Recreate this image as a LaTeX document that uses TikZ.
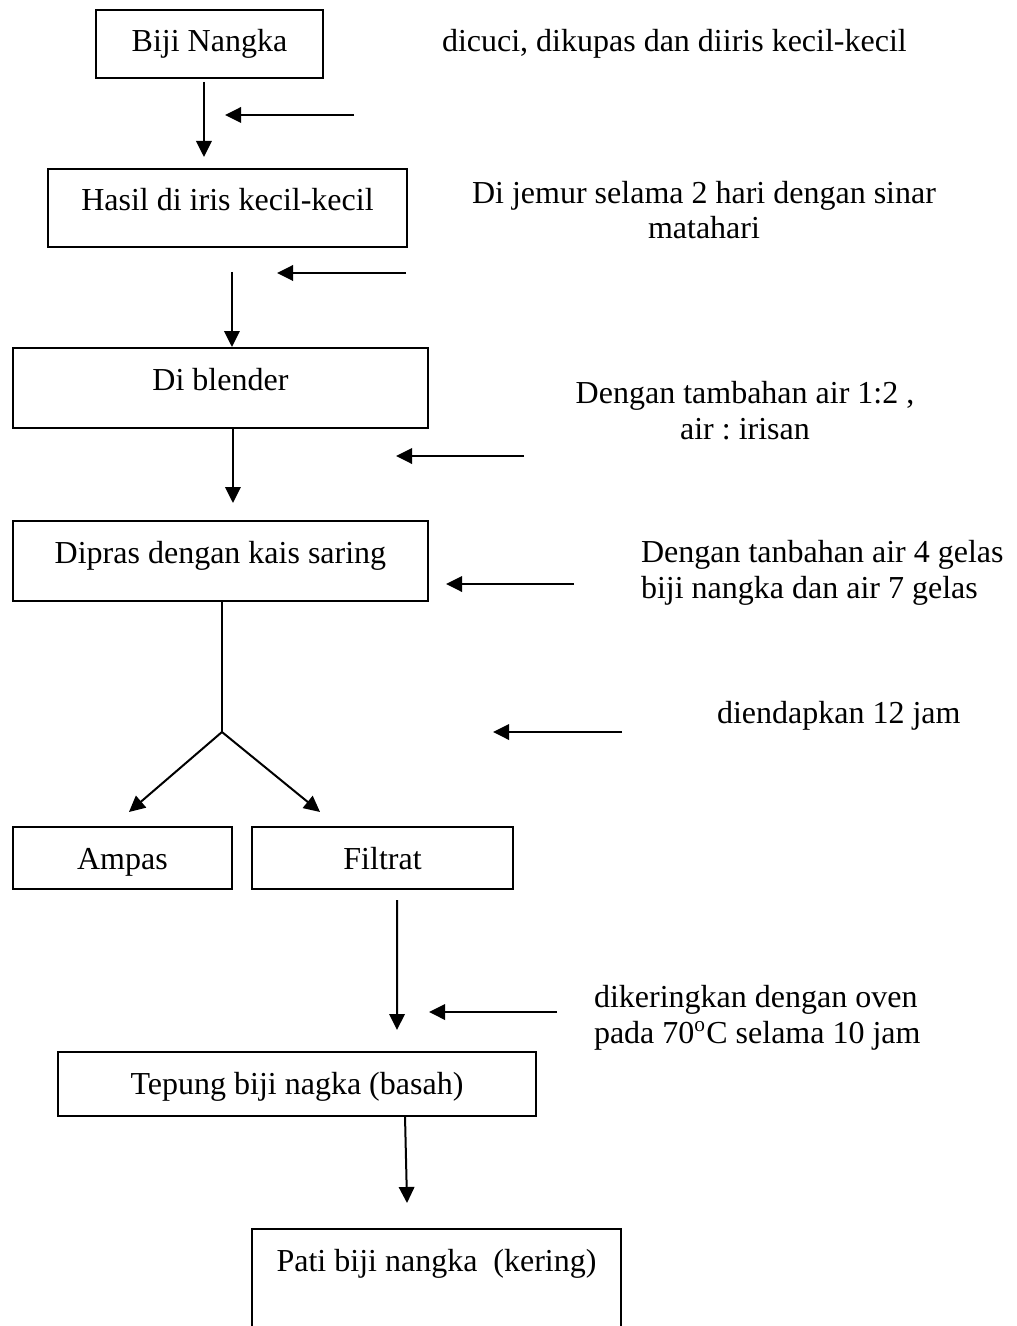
\documentclass[tikz,border=0pt]{standalone}
\usepackage{fontspec}
\setmainfont{Liberation Serif}
\usetikzlibrary{calc}
\usetikzlibrary{arrows.meta}
\frenchspacing
\tikzstyle{every node}=[font=\fontsize{12}{13.3}\selectfont]
\tikzstyle{every path}=[line width=0.75pt]
\newcommand{\feed}[3]{\draw[flow] (#2,#1) -- (#3,#1);}

\begin{document}
\begin{tikzpicture}[x=0.375pt,y=-0.375pt]
		\tikzstyle{flow} = [-{Triangle[length=6pt, width=5.8pt]}]
		\tikzstyle{proc} = [draw, anchor=north west, inner xsep=0pt, inner ysep=0pt, outer sep=0pt, text height=15.75pt]
		\tikzstyle{note} = [inner sep=0pt]
		
		\useasboundingbox (0,0) rectangle (1016,1326);
		
		\node[proc, minimum width=85.1pt, text depth=9.75pt] (biji) at (96,10) {Biji Nangka};
		\node[proc, minimum width=134.6pt, text depth=13.5pt] (hasil) at (48,169) {Hasil di iris kecil-kecil};
		\node[proc, minimum width=155.6pt, text depth=14.25pt] (blender) at (13,348) {Di blender};
		\node[proc, minimum width=155.6pt, text depth=14.25pt] (dipras) at (13,521) {Dipras dengan kais saring};
		\node[proc, minimum width=82.1pt, text depth=7.5pt] (ampas) at (13,827) {Ampas};
		\node[proc, minimum width=97.9pt, text depth=7.5pt] (filtrat) at (252,827) {Filtrat};
		\node[proc, minimum width=179.25pt, text depth=8.25pt] (tepung) at (58,1052) {Tepung biji nagka (basah)};
		\node[proc, minimum width=138.4pt, text depth=36.75pt] (pati) at (252,1229) {Pati biji nangka\ \ (kering)};
		
		% keterangan
		\node[note, anchor=base west] (cuci) at (441,52) {dicuci, dikupas dan diiris kecil-kecil};
		\node[note, align=center, anchor=base] (jemur) at (704,239) {Di jemur selama 2 hari dengan sinar\\matahari};
		\node[note, align=center, anchor=base] (air) at (745,439) {Dengan tambahan air 1:2 ,\\air : irisan};
		\node[note, align=left, anchor=base west] (gelas) at (640,598) {Dengan tanbahan air 4 gelas\\biji nangka dan air 7 gelas};
		\node[note, anchor=base west] (endap) at (716,723) {diendapkan 12 jam};
		\node[note, align=left, anchor=base west] (oven) at (593,1043) {dikeringkan dengan oven\\pada 70\textsuperscript{o}C selama 10 jam};
		
		\feed{115}{354}{225}
		\feed{273}{406}{277}
		\feed{456}{524}{396}
		\feed{584}{574}{446}
		\feed{732}{622}{493}
		\feed{1012}{557}{429}
		
		\draw[flow] ($(biji.south)+(-5.5,4)$) -- ($(hasil.north)+(-23.5,-12)$);
		\draw[flow] ($(hasil.south)+(4.5,25)$) -- ($(blender.north)+(11.5,-1)$);
		\draw[flow] ($(blender.south)+(12.5,0)$) -- ($(dipras.north)+(12.5,-18)$);
		\coordinate (split) at ($(dipras.south)+(1.5,131)$);
		\draw (dipras.south -| split) -- (split);
		\draw[flow] (split) -- ($(ampas.north)+(6.5,-15)$);
		\draw[flow] (split) -- ($(filtrat.north)+(-62.5,-15)$);
		\draw[flow] ($(filtrat.south)+(14.5,11)$) -- ($(tepung.north)+(100,-22)$);
		\draw[flow] ($(tepung.south)+(108,0)$) -- ($(pati.north)+(-29.5,-26)$);
		
	\end{tikzpicture}
\end{document}
